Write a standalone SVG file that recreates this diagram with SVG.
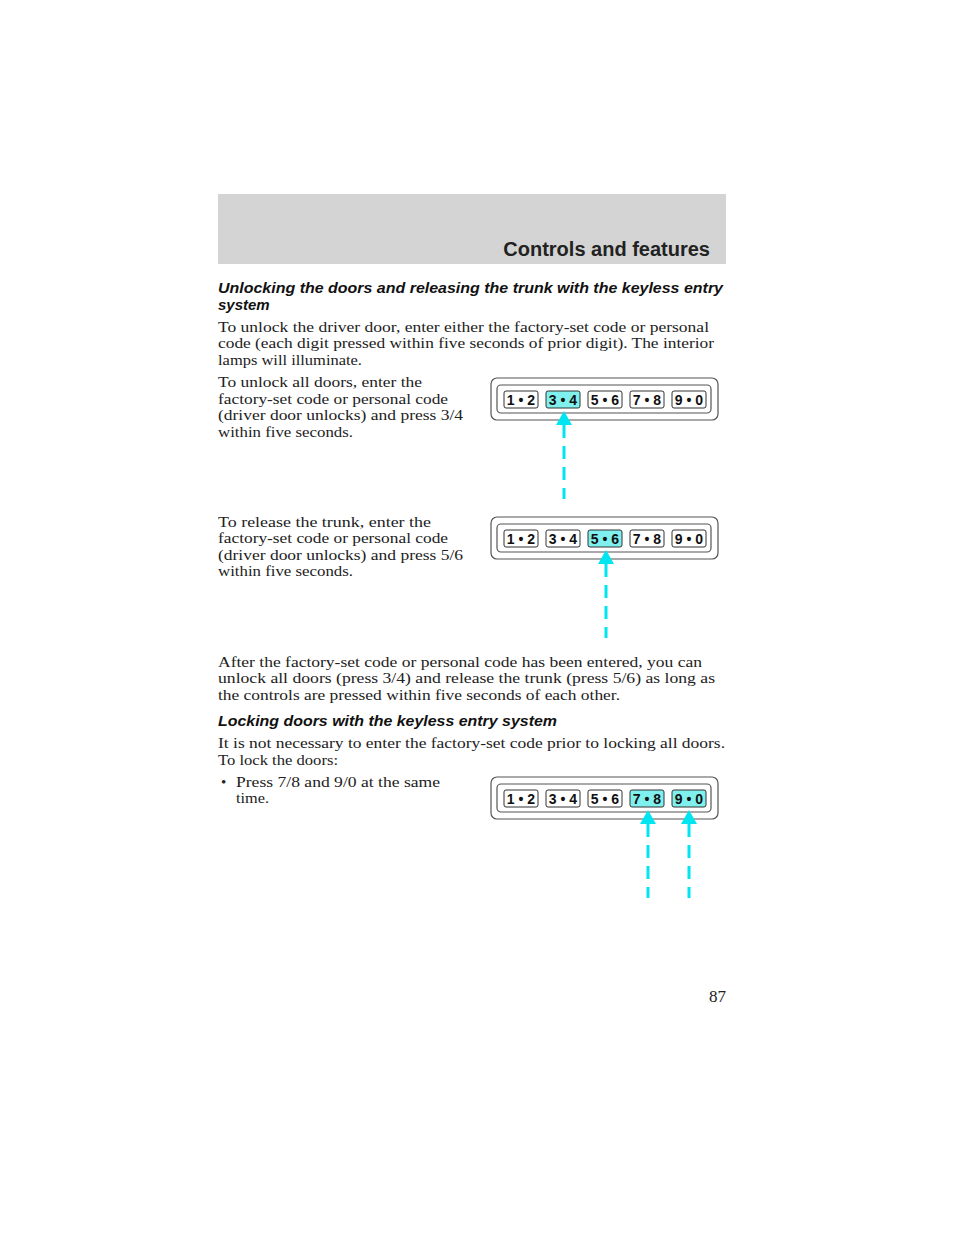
<svg xmlns="http://www.w3.org/2000/svg" width="960" height="1242" viewBox="0 0 960 1242">
<style>
.body{font-family:"Liberation Serif",serif;font-size:15px;fill:#222}
.hd{font-family:"Liberation Sans",sans-serif;font-size:15px;font-weight:bold;font-style:italic;fill:#111}
.pad{fill:#fff;stroke:#555;stroke-width:1.2}
.btn{fill:#fff;stroke:#333;stroke-width:1}
.on{fill:#7ff0ee}
.bt{font-family:"Liberation Sans",sans-serif;font-size:14px;font-weight:bold;fill:#111;text-anchor:middle}
.dash{stroke:#00e5f0;stroke-width:3;stroke-dasharray:13 8;fill:none}
.head{fill:#00e5f0}
</style>
<rect width="960" height="1242" fill="#fff"/>
<rect x="218" y="194" width="508" height="70" fill="#d4d4d4"/>
<text x="710" y="256" text-anchor="end" font-family="Liberation Sans,sans-serif" font-size="20" font-weight="bold" fill="#222">Controls and features</text>
<text class="hd" x="218" y="293" textLength="505" lengthAdjust="spacingAndGlyphs">Unlocking the doors and releasing the trunk with the keyless entry</text>
<text class="hd" x="218" y="310">system</text>
<text class="body" x="218" y="332" textLength="491" lengthAdjust="spacingAndGlyphs">To unlock the driver door, enter either the factory-set code or personal</text>
<text class="body" x="218" y="348" textLength="496" lengthAdjust="spacingAndGlyphs">code (each digit pressed within five seconds of prior digit). The interior</text>
<text class="body" x="218" y="365" textLength="144" lengthAdjust="spacingAndGlyphs">lamps will illuminate.</text>
<text class="body" x="218" y="387" textLength="204" lengthAdjust="spacingAndGlyphs">To unlock all doors, enter the</text>
<text class="body" x="218" y="404" textLength="230" lengthAdjust="spacingAndGlyphs">factory-set code or personal code</text>
<text class="body" x="218" y="420" textLength="245" lengthAdjust="spacingAndGlyphs">(driver door unlocks) and press 3/4</text>
<text class="body" x="218" y="437" textLength="135" lengthAdjust="spacingAndGlyphs">within five seconds.</text>
<text class="body" x="218" y="527" textLength="213" lengthAdjust="spacingAndGlyphs">To release the trunk, enter the</text>
<text class="body" x="218" y="543" textLength="230" lengthAdjust="spacingAndGlyphs">factory-set code or personal code</text>
<text class="body" x="218" y="560" textLength="245" lengthAdjust="spacingAndGlyphs">(driver door unlocks) and press 5/6</text>
<text class="body" x="218" y="576" textLength="135" lengthAdjust="spacingAndGlyphs">within five seconds.</text>
<text class="body" x="218" y="667" textLength="484" lengthAdjust="spacingAndGlyphs">After the factory-set code or personal code has been entered, you can</text>
<text class="body" x="218" y="683" textLength="497" lengthAdjust="spacingAndGlyphs">unlock all doors (press 3/4) and release the trunk (press 5/6) as long as</text>
<text class="body" x="218" y="700" textLength="402" lengthAdjust="spacingAndGlyphs">the controls are pressed within five seconds of each other.</text>
<text class="hd" x="218" y="726" textLength="339" lengthAdjust="spacingAndGlyphs">Locking doors with the keyless entry system</text>
<text class="body" x="218" y="748" textLength="507" lengthAdjust="spacingAndGlyphs">It is not necessary to enter the factory-set code prior to locking all doors.</text>
<text class="body" x="218" y="765" textLength="120" lengthAdjust="spacingAndGlyphs">To lock the doors:</text>
<text class="body" x="221" y="787">•</text>
<text class="body" x="236" y="787" textLength="204" lengthAdjust="spacingAndGlyphs">Press 7/8 and 9/0 at the same</text>
<text class="body" x="236" y="803" textLength="33" lengthAdjust="spacingAndGlyphs">time.</text>
<text x="726" y="1002" text-anchor="end" font-family="Liberation Serif,serif" font-size="17" fill="#222">87</text>
<defs>
<g id="pad">
<rect class="pad" x="491" y="-22" width="227" height="42" rx="6"/>
<rect class="pad" x="497" y="-15" width="214" height="28" rx="4"/>
</g>
</defs>
<g id="keypad1" transform="translate(0,400)">
<use href="#pad"/>
<rect class="btn" x="504" y="-9" width="34" height="17" rx="2"/>
<rect class="btn on" x="546" y="-9" width="34" height="17" rx="2"/>
<rect class="btn" x="588" y="-9" width="34" height="17" rx="2"/>
<rect class="btn" x="630" y="-9" width="34" height="17" rx="2"/>
<rect class="btn" x="672" y="-9" width="34" height="17" rx="2"/>
<text class="bt" x="521" y="5">1 • 2</text><text class="bt" x="563" y="5">3 • 4</text><text class="bt" x="605" y="5">5 • 6</text><text class="bt" x="647" y="5">7 • 8</text><text class="bt" x="689" y="5">9 • 0</text>
</g>
<g id="keypad2" transform="translate(0,539)">
<use href="#pad"/>
<rect class="btn" x="504" y="-9" width="34" height="17" rx="2"/>
<rect class="btn" x="546" y="-9" width="34" height="17" rx="2"/>
<rect class="btn on" x="588" y="-9" width="34" height="17" rx="2"/>
<rect class="btn" x="630" y="-9" width="34" height="17" rx="2"/>
<rect class="btn" x="672" y="-9" width="34" height="17" rx="2"/>
<text class="bt" x="521" y="5">1 • 2</text><text class="bt" x="563" y="5">3 • 4</text><text class="bt" x="605" y="5">5 • 6</text><text class="bt" x="647" y="5">7 • 8</text><text class="bt" x="689" y="5">9 • 0</text>
</g>
<g id="keypad3" transform="translate(0,799)">
<use href="#pad"/>
<rect class="btn" x="504" y="-9" width="34" height="17" rx="2"/>
<rect class="btn" x="546" y="-9" width="34" height="17" rx="2"/>
<rect class="btn" x="588" y="-9" width="34" height="17" rx="2"/>
<rect class="btn on" x="630" y="-9" width="34" height="17" rx="2"/>
<rect class="btn on" x="672" y="-9" width="34" height="17" rx="2"/>
<text class="bt" x="521" y="5">1 • 2</text><text class="bt" x="563" y="5">3 • 4</text><text class="bt" x="605" y="5">5 • 6</text><text class="bt" x="647" y="5">7 • 8</text><text class="bt" x="689" y="5">9 • 0</text>
</g>
<g id="connectors">
<path class="dash" d="M564 425V499"/><path class="head" d="M564 411L556 425H572Z"/>
<path class="dash" d="M606 564V638"/><path class="head" d="M606 550L598 564H614Z"/>
<path class="dash" d="M648 824V898"/><path class="head" d="M648 810L640 824H656Z"/>
<path class="dash" d="M689 824V898"/><path class="head" d="M689 810L681 824H697Z"/>
</g>
</svg>
